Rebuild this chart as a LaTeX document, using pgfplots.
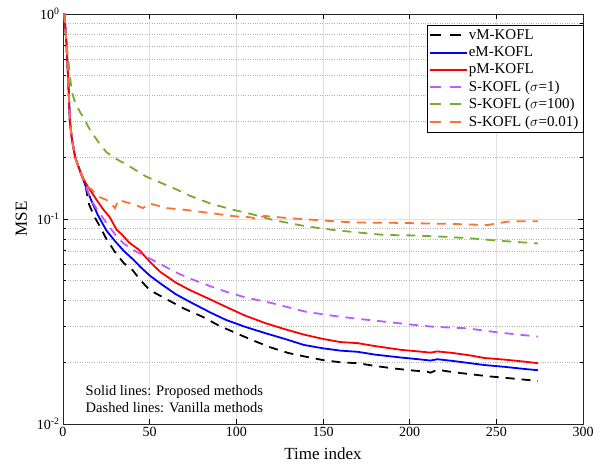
\documentclass[border=0pt]{standalone}
\usepackage{fontspec}
\setmainfont{Liberation Serif}
\usepackage{pgfplots}
\pgfplotsset{compat=1.18}
\definecolor{cpurple}{RGB}{190,90,255}
\definecolor{cgreen}{RGB}{119,172,48}
\definecolor{corange}{RGB}{255,112,51}
\definecolor{gridgray}{RGB}{225,225,225}
\pgfplotsset{
  dashleg/.style={legend image code/.code={\path[##1, solid, draw=none, fill] (0pt,-1pt) rectangle (11pt,1pt); \path[##1, solid, draw=none, fill] (20pt,-1pt) rectangle (31pt,1pt);}},
  solidleg/.style={legend image code/.code={\path[##1, draw=none, fill] (0pt,-1pt) rectangle (37pt,1pt);}},
}
\begin{document}
\begin{tikzpicture}
\begin{axis}[
  scale only axis, width=520pt, height=410pt,
  ymode=log, xmin=0, xmax=300, ymin=0.01, ymax=1,
  xtick={0,50,100,150,200,250,300},
  ytick={0.01,0.1,1},
  yticklabels={10\textsuperscript{-2},10\textsuperscript{-1},10\textsuperscript{0}},
  /pgf/number format/assume math mode=true,
  tick label style={font=\fontsize{14}{14}\selectfont},
  xlabel={Time index}, ylabel={MSE},
  label style={font=\fontsize{17}{17}\selectfont},
  xlabel style={yshift=-4pt},
  ylabel style={yshift=3pt},
  grid=both,
  major grid style={gridgray, line width=0.6pt},
  minor grid style={gray!60, dotted, line width=0.5pt},
  minor x tick num=0,
  tick align=inside,
  xtick pos=both, ytick pos=both,
  major tick length=5pt, minor tick length=3pt,
  tick style={black, line width=0.6pt},
  axis line style={line width=0.8pt, black!85},
  legend cell align=left,
  legend style={at={(1,0.973)}, anchor=north east, draw=black,
     font=\fontsize{15}{18}\selectfont, inner sep=2.5pt, row sep=1.6pt},
  every axis plot/.append style={line width=1.8pt},
]
\addplot[black, dash pattern=on 9pt off 7pt, dashleg] coordinates {
(0,1.2)(1,0.95)(2,0.72)(3,0.48)(4,0.3)(5,0.25)(7,0.2)(10,0.17)(13,0.145)(15,0.118)(18,0.103)(21,0.093)(25,0.08)(30,0.069)(35,0.061)(40,0.0565)(45,0.05)(50,0.045)(60,0.0405)(70,0.0365)(80,0.0335)(90,0.0302)(100,0.0277)(110,0.0255)(120,0.0236)(130,0.0222)(140,0.0213)(150,0.0205)(160,0.0200)(170,0.0198)(180,0.0192)(190,0.0187)(200,0.0183)(210,0.018)(212,0.0178)(216,0.0184)(225,0.0179)(235,0.0175)(245,0.0171)(255,0.0168)(265,0.0165)(274,0.0162)};
\addlegendentry{vM-KOFL}
\addplot[blue, solid, solidleg] coordinates {
(0,1.2)(1,0.95)(2,0.72)(3,0.48)(4,0.3)(5,0.25)(7,0.2)(10,0.17)(13,0.145)(16,0.125)(20,0.105)(25,0.088)(30,0.078)(35,0.07)(40,0.064)(45,0.058)(50,0.053)(56,0.0486)(65,0.043)(73,0.0395)(85,0.035)(94,0.0322)(105,0.0298)(117,0.0277)(128,0.026)(139,0.0243)(150,0.0234)(160,0.0228)(170,0.0225)(180,0.0218)(195,0.0211)(205,0.0207)(212,0.0204)(216,0.0207)(225,0.0203)(235,0.0198)(243,0.0194)(255,0.019)(265,0.0186)(274,0.0183)};
\addlegendentry{eM-KOFL}
\addplot[red, solid, solidleg] coordinates {
(0,1.2)(1,0.95)(2,0.72)(3,0.48)(4,0.3)(5,0.25)(7,0.2)(10,0.17)(13,0.15)(16,0.137)(19.4,0.124)(23,0.112)(27,0.102)(31,0.0884)(34,0.084)(38,0.077)(44,0.0706)(50,0.062)(56,0.0553)(65,0.049)(73,0.0451)(85,0.0405)(94,0.0373)(105,0.0338)(117,0.031)(128,0.029)(139,0.0273)(150,0.0260)(160,0.0251)(170,0.0248)(180,0.024)(195,0.023)(205,0.0226)(212,0.0223)(216,0.0226)(225,0.0222)(235,0.0216)(243,0.021)(255,0.0206)(265,0.0202)(274,0.0198)};
\addlegendentry{pM-KOFL}
\addplot[cpurple, dash pattern=on 9pt off 7pt, dashleg] coordinates {
(0,1.2)(1,0.95)(2,0.72)(3,0.48)(4,0.3)(5,0.25)(7,0.2)(10,0.17)(13,0.145)(16,0.125)(20,0.11)(25,0.096)(31,0.082)(35,0.076)(40,0.071)(48,0.0655)(55,0.061)(65,0.055)(73,0.0513)(85,0.047)(94,0.0442)(105,0.0415)(121,0.0388)(140,0.0353)(156,0.0337)(170,0.0326)(185,0.0316)(200,0.0306)(214,0.0298)(233,0.0293)(252,0.0279)(274,0.0267)};
\addlegendentry{S-KOFL ($\sigma$=1)}
\addplot[cgreen, dash pattern=on 9pt off 7pt, dashleg] coordinates {
(0,1.2)(1,0.9)(2,0.72)(3,0.61)(4,0.5)(5,0.42)(7,0.37)(9.8,0.333)(12,0.31)(15.6,0.272)(20,0.24)(25,0.212)(30,0.198)(38.7,0.18)(48,0.161)(55,0.152)(65,0.14)(73,0.13)(85,0.119)(98,0.111)(110,0.105)(121,0.099)(139,0.0925)(156,0.0884)(170,0.086)(185,0.0836)(200,0.0832)(219,0.082)(235,0.0805)(252,0.0783)(274,0.076)};
\addlegendentry{S-KOFL ($\sigma$=100)}
\addplot[corange, dash pattern=on 9pt off 7pt, dashleg] coordinates {
(0,1.2)(1,0.95)(2,0.72)(3,0.48)(4,0.3)(5,0.25)(7,0.2)(10,0.17)(13,0.147)(17,0.138)(21,0.128)(25,0.124)(28,0.118)(30,0.113)(32,0.124)(36,0.121)(42,0.117)(46,0.113)(50,0.119)(55,0.116)(60,0.113)(70,0.111)(77,0.109)(85,0.107)(95,0.104)(102,0.1026)(108,0.102)(112,0.1)(116,0.1035)(121,0.1026)(130,0.101)(142,0.0994)(154,0.0978)(165,0.0965)(175,0.096)(190,0.0958)(200,0.0955)(212,0.095)(223,0.0947)(235,0.094)(245,0.0935)(250,0.095)(256,0.097)(268,0.0977)(274,0.0975)};
\addlegendentry{S-KOFL ($\sigma$=0.01)}
\node[anchor=west, align=left, font=\fontsize{14.5}{17}\selectfont, inner sep=0pt] at (axis cs:13,0.0133) {Solid lines: Proposed methods\\Dashed lines: Vanilla methods};
\coordinate (bl) at (rel axis cs:0,0);
\coordinate (tr) at (rel axis cs:1,1);
\end{axis}
\path[use as bounding box] ([shift={(-63pt,-43pt)}]bl) rectangle ([shift={(24pt,14pt)}]tr);
\end{tikzpicture}
\end{document}
